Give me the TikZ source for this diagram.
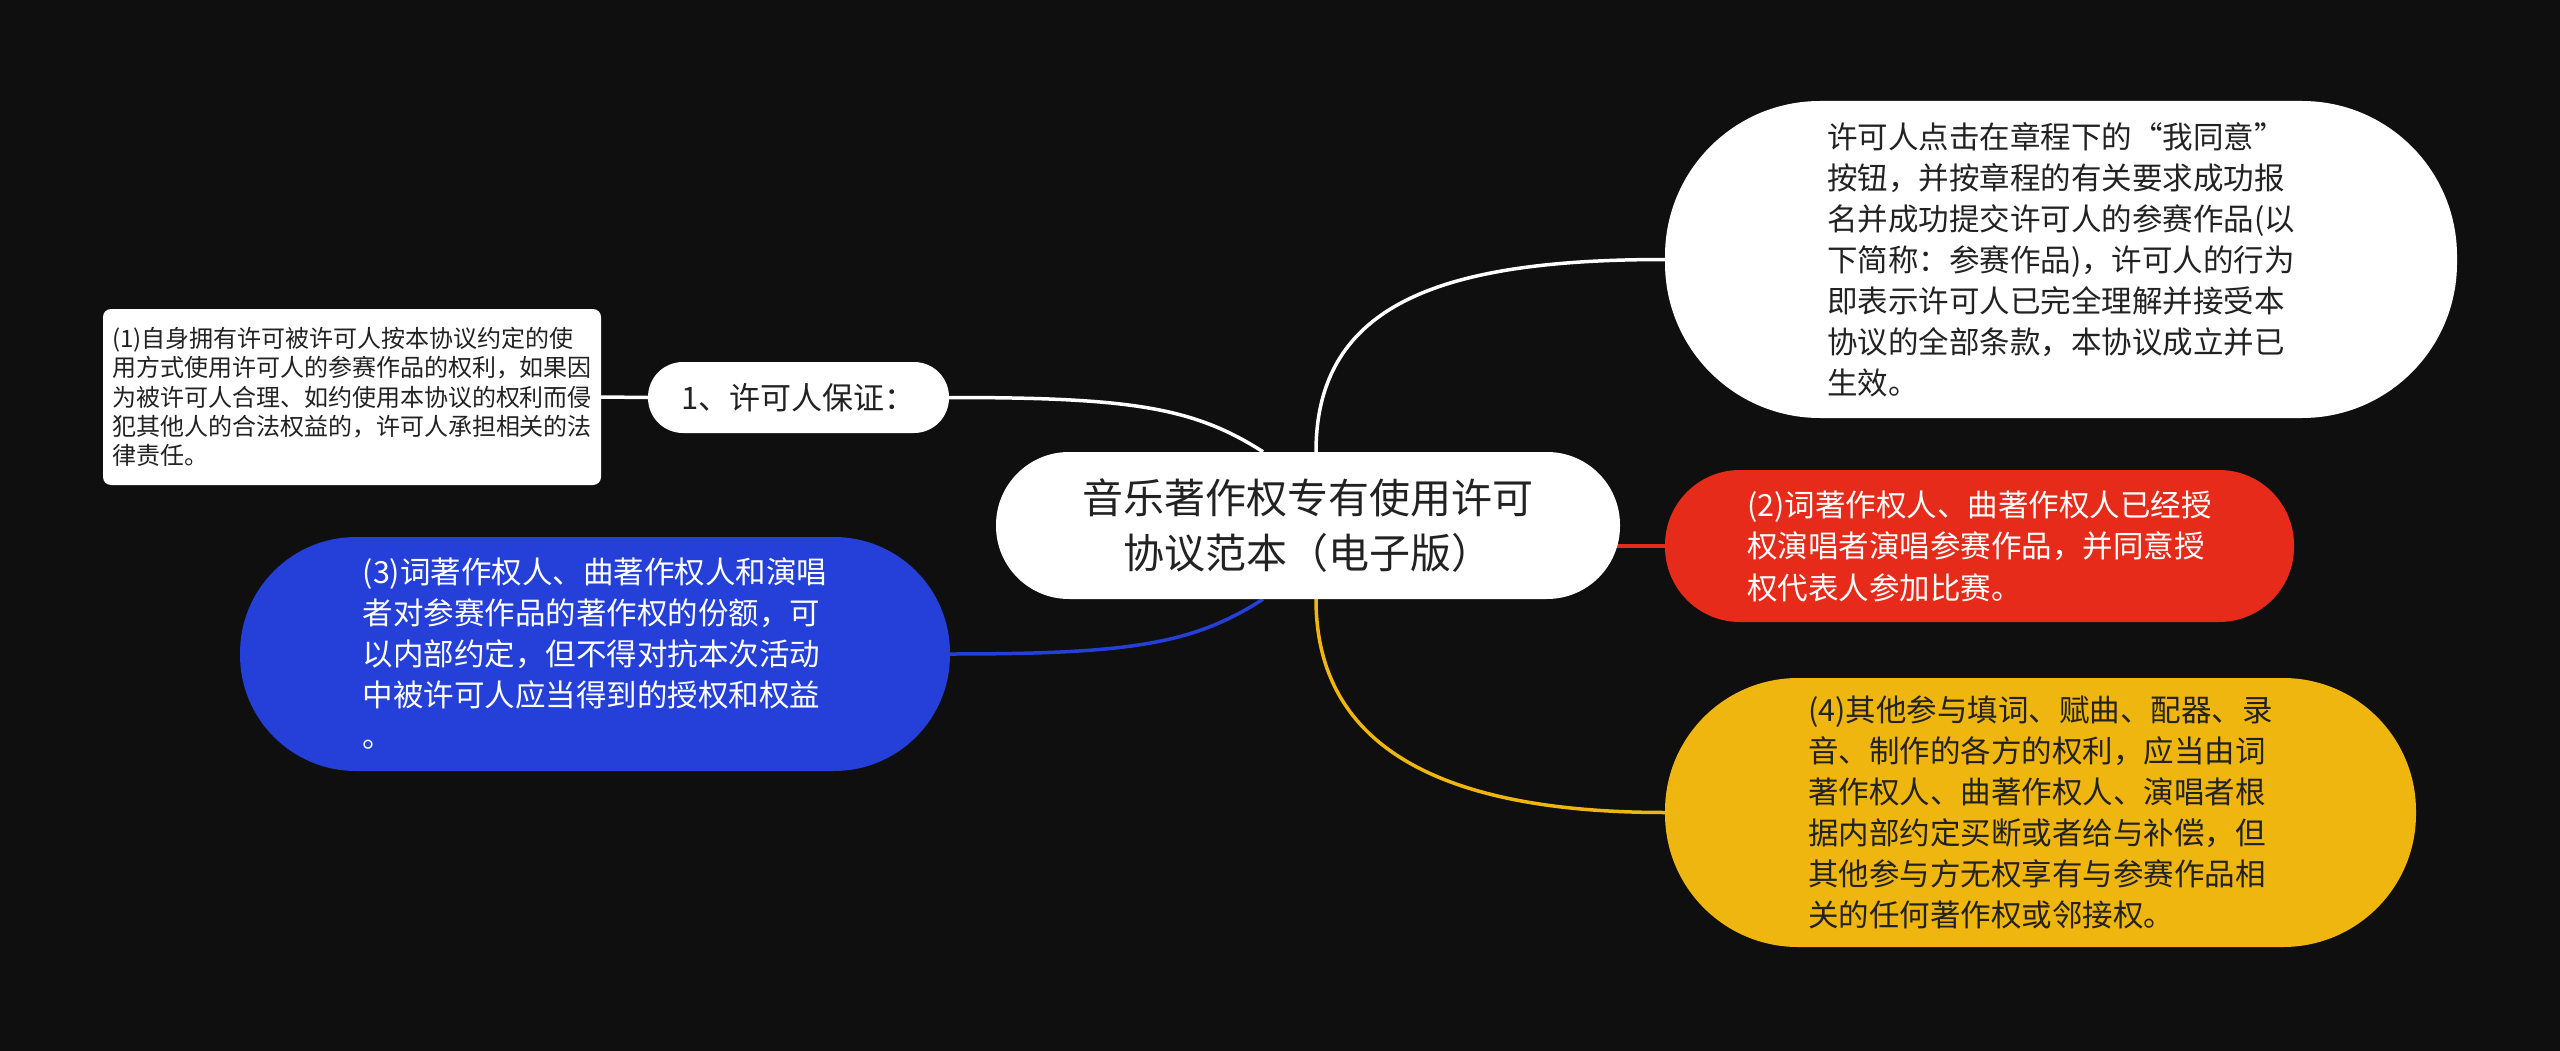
\documentclass[tikz,border=0pt]{standalone}
\usepackage{fontspec}
\newfontfamily\cjk{Noto Sans CJK SC}
\usetikzlibrary{calc}
\pgfdeclarelayer{bg}
\pgfsetlayers{bg,main}
\definecolor{bgc}{RGB}{15,15,15}
\definecolor{bluec}{RGB}{36,64,216}
\definecolor{redc}{RGB}{230,43,27}
\definecolor{yelc}{RGB}{239,182,15}
\definecolor{darktxt}{RGB}{34,34,34}
\tikzset{
  mmnode/.style={inner sep=0pt, align=left},
  fs/.style 2 args={font=\cjk\fontsize{#1}{#2}\selectfont},
  conn/.style={line width=3.5pt},
}
\begin{document}
\begin{tikzpicture}[x=1pt,y=-1pt]
\begin{pgfonlayer}{bg}
\fill[bgc] (0,0) rectangle (2560,1051);
\end{pgfonlayer}

\node[mmnode, fill=white, rounded corners=73pt, minimum width=624pt, minimum height=147pt, align=center, text=darktxt, fs={41}{55}] (c) at (1308,525.5) {音乐著作权专有使用许可\\协议范本（电子版）};

\node[mmnode, fill=white, rounded corners=35pt, minimum width=301pt, minimum height=71pt, text=darktxt, fs={31}{40}] (n1) at (798.5,397.5) {1、许可人保证：};

\node[mmnode, fill=white, rounded corners=8pt, minimum width=498pt, minimum height=176pt, text=darktxt, fs={24}{29.4}] (b1) at (352,397) {(1)自身拥有许可被许可人按本协议约定的使\\用方式使用许可人的参赛作品的权利，如果因\\为被许可人合理、如约使用本协议的权利而侵\\犯其他人的合法权益的，许可人承担相关的法\\律责任。};

\node[mmnode, fill=bluec, rounded corners=116pt, minimum width=710pt, minimum height=234pt, text=white, fs={30.5}{41}] (b3) at (595,654) {(3)词著作权人、曲著作权人和演唱\\者对参赛作品的著作权的份额，可\\以内部约定，但不得对抗本次活动\\中被许可人应当得到的授权和权益\\。};

\node[mmnode, fill=white, rounded corners=155pt, minimum width=792pt, minimum height=317pt, text=darktxt, fs={30.5}{41}] (wr) at (2061,259.5) {许可人点击在章程下的“我同意”\\按钮，并按章程的有关要求成功报\\名并成功提交许可人的参赛作品(以\\下简称：参赛作品)，许可人的行为\\即表示许可人已完全理解并接受本\\协议的全部条款，本协议成立并已\\生效。};

\node[mmnode, fill=redc, rounded corners=75pt, minimum width=629pt, minimum height=152pt, text=white, fs={30.5}{41.5}] (b2) at (1979.5,546) {(2)词著作权人、曲著作权人已经授\\权演唱者演唱参赛作品，并同意授\\权代表人参加比赛。};

\node[mmnode, fill=yelc, rounded corners=133pt, minimum width=751pt, minimum height=269pt, text=darktxt, fs={30.5}{41}] (b4) at (2040.5,812.5) {(4)其他参与填词、赋曲、配器、录\\音、制作的各方的权利，应当由词\\著作权人、曲著作权人、演唱者根\\据内部约定买断或者给与补偿，但\\其他参与方无权享有与参赛作品相\\关的任何著作权或邻接权。};

\begin{pgfonlayer}{bg}
\draw[conn, white] (n1.east) .. controls +(180,0) and +(-70,-45) .. ($(c.north)+(-45,0)$);
\draw[conn, white] (n1.west) -- (b1.east);
\draw[conn, bluec] (b3.east) .. controls +(180,0) and +(-70,45) .. ($(c.south)+(-45,0)$);
\draw[conn, white] ($(c.north)+(8,0)$) .. controls +(0,-150) and +(-220,0) .. (wr.west);
\draw[conn, redc] (b2.west) -- (c.center |- b2.west);
\draw[conn, yelc] ($(c.south)+(8,0)$) .. controls +(0,150) and +(-220,0) .. (b4.west);
\end{pgfonlayer}
\end{tikzpicture}
\end{document}
